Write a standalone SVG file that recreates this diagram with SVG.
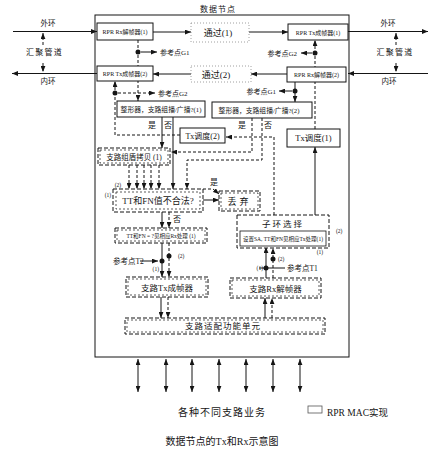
<svg xmlns="http://www.w3.org/2000/svg" width="436" height="450" viewBox="0 0 436 450">
<style>
text{font-family:"Liberation Serif","Noto Sans CJK SC",serif;fill:#151515}
.m{text-anchor:middle}
.e{text-anchor:end}
.s{fill:none;stroke:#151515;stroke-width:1}
.d{fill:none;stroke:#151515;stroke-width:1;stroke-dasharray:3 2}
.box{fill:#fff;stroke:#151515;stroke-width:1}
.fb{fill:#fff;stroke:#888;stroke-width:0.8;stroke-dasharray:1 2}
.db{fill:#fff;stroke:#151515;stroke-width:1;stroke-dasharray:4 2}
.di{fill:none;stroke:#151515;stroke-width:0.7;stroke-dasharray:2 2}
.dot{fill:#151515}
</style>
<defs>
<marker id="a" viewBox="0 0 10 8" refX="10" refY="4" markerWidth="6" markerHeight="5" orient="auto-start-reverse" markerUnits="userSpaceOnUse"><path d="M0,0 L10,4 L0,8 z" fill="#151515"/></marker>
</defs>
<rect width="436" height="450" fill="#fff"/>

<g id="frame">
<rect x="95" y="15" width="254" height="342" fill="none" stroke="#151515" stroke-width="1"/>
<text x="218" y="12" class="m" font-size="8" letter-spacing="1">数据节点</text>
</g>

<g id="connectors">
<line x1="13" y1="31.5" x2="97" y2="31.5" class="s" marker-end="url(#a)"/>
<line x1="348" y1="31.5" x2="428" y2="31.5" class="s" marker-end="url(#a)"/>
<line x1="428" y1="73.5" x2="348" y2="73.5" class="s" marker-end="url(#a)"/>
<line x1="97" y1="73.5" x2="12" y2="73.5" class="s" marker-end="url(#a)"/>
<line x1="43" y1="45" x2="43" y2="33" class="d" marker-end="url(#a)"/>
<line x1="43" y1="63" x2="43" y2="72" class="d" marker-end="url(#a)"/>
<line x1="396" y1="45" x2="396" y2="33" class="d" marker-end="url(#a)"/>
<line x1="396" y1="63" x2="396" y2="72" class="d" marker-end="url(#a)"/>
<line x1="153" y1="32" x2="191" y2="32" class="s" marker-end="url(#a)"/>
<line x1="249" y1="32" x2="288" y2="32" class="s" marker-end="url(#a)"/>
<line x1="287" y1="74" x2="251" y2="74" class="s" marker-end="url(#a)"/>
<line x1="191" y1="74" x2="153" y2="74" class="s" marker-end="url(#a)"/>
<line x1="138" y1="40" x2="138" y2="101" class="d" marker-end="url(#a)"/>
<circle cx="138" cy="52" r="2.5" class="dot"/>
<line x1="141" y1="52" x2="157" y2="52" class="s" marker-end="url(#a)"/>
<path d="M180,135 H115 V81" class="d" marker-end="url(#a)"/>
<circle cx="115" cy="93" r="2.5" class="dot"/>
<line x1="118" y1="93" x2="155" y2="93" class="d" marker-end="url(#a)"/>
<line x1="295" y1="82" x2="295" y2="102" class="s" marker-end="url(#a)"/>
<circle cx="295" cy="91" r="2.5" class="dot"/>
<line x1="292" y1="91" x2="279" y2="91" class="s" marker-end="url(#a)"/>
<line x1="315" y1="129" x2="315" y2="40" class="d" marker-end="url(#a)"/>
<circle cx="315" cy="53" r="2.5" class="dot"/>
<line x1="312" y1="53" x2="301" y2="53" class="s" marker-end="url(#a)"/>
<line x1="162" y1="117" x2="162" y2="148" class="s" marker-end="url(#a)"/>
<line x1="173" y1="117" x2="173" y2="189" class="s" marker-end="url(#a)"/>
<path d="M252,118 V152 H171" class="d" marker-end="url(#a)"/>
<path d="M262,118 V160 H187 V189" class="d" marker-end="url(#a)"/>
<path d="M274,215 V137 H226" class="d" marker-end="url(#a)"/>
<line x1="315" y1="215" x2="315" y2="147" class="s" marker-end="url(#a)"/>
<line x1="129" y1="165" x2="129" y2="189" class="d" marker-end="url(#a)"/>
<line x1="137" y1="165" x2="137" y2="189" class="d" marker-end="url(#a)"/>
<line x1="144" y1="165" x2="144" y2="189" class="d" marker-end="url(#a)"/>
<line x1="151" y1="165" x2="151" y2="189" class="d" marker-end="url(#a)"/>
<line x1="159" y1="165" x2="159" y2="189" class="d" marker-end="url(#a)"/>
<path d="M203,189 H213 L219,194" class="d" marker-end="url(#a)"/>
<line x1="203" y1="200" x2="219" y2="200" class="s" marker-end="url(#a)"/>
<line x1="162" y1="212" x2="162" y2="228" class="s" marker-end="url(#a)"/>
<line x1="169" y1="212" x2="169" y2="228" class="d" marker-end="url(#a)"/>
<line x1="162" y1="243" x2="162" y2="277" class="s" marker-end="url(#a)"/>
<line x1="169" y1="243" x2="169" y2="277" class="d" marker-end="url(#a)"/>
<circle cx="162" cy="261" r="2.5" class="dot"/>
<circle cx="169" cy="256" r="2.5" class="dot"/>
<line x1="140" y1="261" x2="158" y2="261" class="s" marker-end="url(#a)"/>
<line x1="266" y1="278" x2="266" y2="247" class="s" marker-end="url(#a)"/>
<line x1="273" y1="278" x2="273" y2="248" class="d" marker-end="url(#a)"/>
<circle cx="266" cy="268" r="2.5" class="dot"/>
<circle cx="273" cy="259" r="2.5" class="dot"/>
<line x1="259" y1="268" x2="285" y2="268" class="s" stroke-width="0.7"/>
<line x1="161" y1="297" x2="161" y2="318" class="s" marker-end="url(#a)"/>
<line x1="168" y1="297" x2="168" y2="318" class="d" marker-end="url(#a)"/>
<line x1="265" y1="318" x2="265" y2="298" class="s" marker-end="url(#a)"/>
<line x1="272" y1="318" x2="272" y2="298" class="d" marker-end="url(#a)"/>
<line x1="138" y1="359" x2="138" y2="392" class="s" marker-start="url(#a)" marker-end="url(#a)"/>
<line x1="166" y1="359" x2="166" y2="392" class="s" marker-start="url(#a)" marker-end="url(#a)"/>
<line x1="192" y1="359" x2="192" y2="392" class="s" marker-start="url(#a)" marker-end="url(#a)"/>
<line x1="219" y1="359" x2="219" y2="392" class="s" marker-start="url(#a)" marker-end="url(#a)"/>
<line x1="246" y1="359" x2="246" y2="392" class="s" marker-start="url(#a)" marker-end="url(#a)"/>
<line x1="273" y1="359" x2="273" y2="392" class="s" marker-start="url(#a)" marker-end="url(#a)"/>
<line x1="300" y1="359" x2="300" y2="392" class="s" marker-start="url(#a)" marker-end="url(#a)"/>
</g>

<g id="labels">
<text x="48" y="26" class="m" font-size="7.5">外环</text>
<text x="388" y="26" class="m" font-size="7.5">外环</text>
<text x="48" y="84" class="m" font-size="7.5">内环</text>
<text x="389" y="84" class="m" font-size="7.5">内环</text>
<text x="44.5" y="55" class="m" font-size="8" letter-spacing="1.2">汇聚管道</text>
<text x="395" y="55" class="m" font-size="8" letter-spacing="1.2">汇聚管道</text>
<text x="160" y="55" font-size="7">参考点G1</text>
<text x="158" y="96" font-size="7">参考点G2</text>
<text x="276" y="94" class="e" font-size="7">参考点G1</text>
<text x="297" y="56" class="e" font-size="7">参考点G2</text>
<text x="152" y="128" class="m" font-size="8">是</text>
<text x="168" y="128" class="m" font-size="8">否</text>
<text x="242" y="128" class="m" font-size="8">是</text>
<text x="268" y="128" class="m" font-size="8">否</text>
<text x="118" y="187" class="m" font-size="5.5">(2)</text>
<text x="108" y="197" class="m" font-size="5.5">(1)</text>
<text x="214" y="185" class="m" font-size="8">是</text>
<text x="177" y="222" class="m" font-size="8">否</text>
<text x="113" y="264" font-size="7.5">参考点T2</text>
<text x="178" y="258" font-size="5.5">(2)</text>
<text x="159" y="271" class="e" font-size="5.5">(1)</text>
<text x="263" y="270" class="e" font-size="5.5">(1)</text>
<text x="278" y="261" font-size="5.5">(2)</text>
<text x="287" y="271" font-size="7.5">参考点T1</text>
<text x="336" y="233" font-size="5.5">(2)</text>
<text x="320" y="254" class="m" font-size="5.5">(1)</text>
</g>

<g id="rx1"><rect x="97" y="23" width="56" height="17" class="box"/><text x="125" y="34" class="m" font-size="6">RPR Rx解帧器(1)</text></g>
<g id="pass1"><rect x="191" y="23" width="58" height="19" class="fb"/><text x="218" y="36" class="m" font-size="9">通过(1)</text></g>
<g id="tx1"><rect x="288" y="24" width="60" height="16" class="box"/><text x="318" y="34.5" class="m" font-size="6">RPR Tx成帧器(1)</text></g>
<g id="tx2"><rect x="97" y="66" width="56" height="15" class="box"/><text x="125" y="76" class="m" font-size="6">RPR Tx成帧器(2)</text></g>
<g id="pass2"><rect x="191" y="66" width="60" height="16" class="fb"/><text x="216" y="77.5" class="m" font-size="9">通过(2)</text></g>
<g id="rx2"><rect x="287" y="67" width="59" height="15" class="box"/><text x="316.5" y="77" class="m" font-size="6">RPR Rx解帧器(2)</text></g>

<g id="shaper1"><rect x="117" y="101" width="88" height="16" class="box"/><text x="161" y="111.5" class="m" font-size="6.8">整形器，支路组播/广播?(1)</text></g>
<g id="shaper2"><rect x="212" y="102" width="100" height="16" class="box"/><text x="259" y="112.5" class="m" font-size="6.8">整形器，支路组播/广播?(2)</text></g>
<g id="txsched2"><rect x="180" y="128" width="45" height="15" class="box"/><text x="202.5" y="138.5" class="m" font-size="8">Tx调度(2)</text></g>
<g id="txsched1"><rect x="287" y="129" width="53" height="18" class="box"/><text x="313.5" y="141" class="m" font-size="8.5">Tx调度(1)</text></g>

<g id="copy"><rect x="98" y="148" width="72" height="17" class="db"/><rect x="100" y="150" width="68" height="13" class="di"/><text x="134" y="159.5" class="m" font-size="7.5">支路组盾拷贝 (1)</text></g>
<g id="check"><rect x="113" y="189" width="90" height="23" class="db"/><rect x="116" y="192" width="84" height="17" class="di"/><text x="158" y="203.5" class="m" font-size="9">TT和FN值不合法?</text></g>
<g id="discard"><rect x="219" y="191" width="41" height="20" class="db"/><rect x="221" y="193" width="37" height="16" class="di"/><text x="239.5" y="204.5" class="m" font-size="9" letter-spacing="3">丢弃</text></g>
<g id="ttfn"><rect x="115" y="228" width="92" height="15" class="db"/><rect x="117" y="230" width="88" height="11" class="di"/><text x="161" y="238" class="m" font-size="5.5">TT和FN = ?见相应Rx处理 (1)</text></g>
<g id="ringsel"><rect x="237" y="215" width="92" height="33" class="db"/><rect x="240" y="231" width="86" height="15" fill="none" stroke="#151515" stroke-width="0.8"/><text x="283" y="227" class="m" font-size="8.5" letter-spacing="2">子环选择</text><text x="283" y="241" class="m" font-size="5.5">设置SA, TT和FN见相应Tx处理(1)</text></g>
<g id="tribtx"><rect x="126" y="277" width="82" height="20" class="db"/><rect x="128" y="279" width="78" height="16" class="di"/><text x="167" y="290.5" class="m" font-size="8.5">支路Tx成帧器</text></g>
<g id="tribrx"><rect x="230" y="278" width="91" height="20" class="db"/><rect x="232" y="280" width="87" height="16" class="di"/><text x="275.5" y="291.5" class="m" font-size="8.5">支路Rx解帧器</text></g>
<g id="adapt"><rect x="125" y="318" width="200" height="16" class="db"/><rect x="127" y="320" width="196" height="12" class="di"/><text x="223" y="329" class="m" font-size="8.5" letter-spacing="1">支路适配功能单元</text></g>

<g id="footer">
<text x="222" y="416" class="m" font-size="10" letter-spacing="1">各种不同支路业务</text>
<rect x="308" y="406" width="14" height="7" fill="none" stroke="#555" stroke-width="0.8"/>
<text x="327" y="416" font-size="9.5">RPR MAC实现</text>
<text x="222" y="445" class="m" font-size="10">数据节点的Tx和Rx示意图</text>
</g>
</svg>
